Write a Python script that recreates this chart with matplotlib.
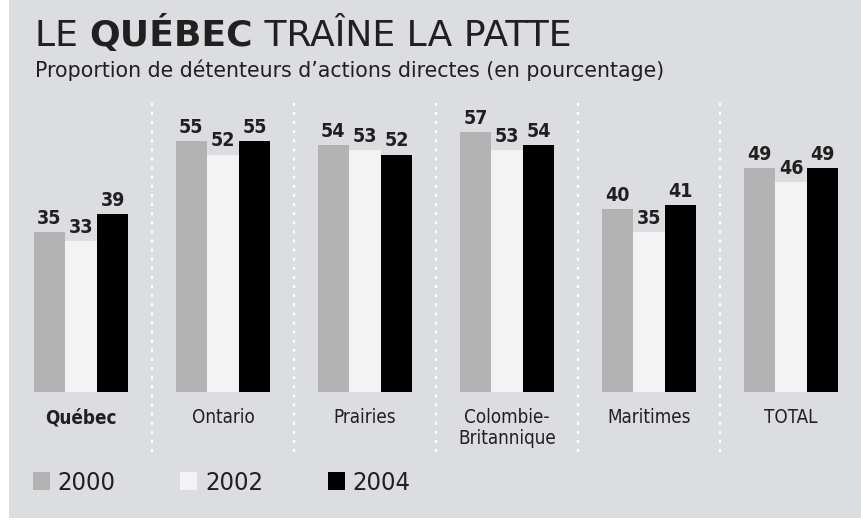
import matplotlib
matplotlib.use("Agg")
import matplotlib.pyplot as plt
from matplotlib.patches import Rectangle, Patch
import numpy as np

# ---- data ----
categories = ["Québec", "Ontario", "Prairies", "Colombie-\nBritannique", "Maritimes", "TOTAL"]
years = ["2000", "2002", "2004"]
v2000 = [35, 55, 54, 57, 40, 49]
v2002 = [33, 52, 53, 53, 35, 46]
v2004 = [39, 55, 52, 54, 41, 49]

colors = ["#b3b3b3", "#f3f3f3", "#000000"]
bg = "#dcdde0"
ink = "#231f20"
cond = dict(family="DejaVu Sans", stretch="condensed")

W, H = 861, 522
fig = plt.figure(figsize=(W / 100, H / 100), dpi=100, facecolor="white")
fig.patches.append(Rectangle((9 / W, 4 / H), 1, 1, transform=fig.transFigure,
                             facecolor=bg, edgecolor="none", zorder=-10))

# axes: baseline at y=392px, top at 98px, groups every 142px starting at 10px
ax = fig.add_axes([10 / W, 130 / H, 852 / W, 294 / H])
ax.set_facecolor("none")
ax.set_xlim(-0.5, 5.5)
ax.set_ylim(0, 294 / 4.565)
for s in ax.spines.values():
    s.set_visible(False)
ax.set_xticks([])
ax.set_yticks([])

x = np.arange(len(categories))
bw = 0.223
for k, vals in enumerate([v2000, v2002, v2004]):
    bars = ax.bar(x + (k - 1) * bw, vals, width=bw, color=colors[k], label=years[k])
    for b, v in zip(bars, vals):
        ax.annotate(str(v), (b.get_x() + b.get_width() / 2, v), xytext=(0, 3),
                    textcoords="offset points", ha="center", va="bottom",
                    fontsize=14, fontweight="bold", color=ink, **cond)

# dotted separators
for xs in x[:-1] + 0.5:
    ax.axvline(xs, ymin=-0.204, ymax=1.0, color="white", lw=1.6,
               ls=(0, (1.3, 2.8)), clip_on=False)

# category labels
for xi, c in zip(x, categories):
    ax.text(xi, -0.055, c, transform=ax.get_xaxis_transform(), ha="center", va="top",
            fontsize=13.5, color=ink, linespacing=1.1,
            fontweight="bold" if c == "Québec" else "normal", **cond)

# title with a bold word
renderer = fig.canvas.get_renderer()
tx = 35 / W
parts = [("LE ", "normal"), ("QUÉBEC", "bold"), (" TRAÎNE LA PATTE", "normal")]
for txt, wgt in parts:
    t = fig.text(tx, 1 - 46 / H, txt, fontsize=26, fontweight=wgt, color=ink,
                 family="DejaVu Sans", va="baseline", ha="left")
    bb = t.get_window_extent(renderer)
    tx += bb.width / W

fig.text(35 / W, 1 - 77 / H, "Proportion de détenteurs d\u2019actions directes (en pourcentage)",
         fontsize=14.8, color=ink, family="DejaVu Sans", va="baseline", ha="left")

# legend
handles = [Patch(facecolor=c, edgecolor="none") for c in colors]
leg = fig.legend(handles, years, loc="center left", bbox_to_anchor=(33 / W, 1 - 483 / H),
                 ncol=3, frameon=False, fontsize=18.3, handlelength=0.67, handleheight=0.67,
                 handletextpad=0.3, columnspacing=2.55, labelcolor=ink,
                 borderpad=0, borderaxespad=0)
for t in leg.get_texts():
    t.set_family("DejaVu Sans")
    t.set_stretch("condensed")

fig.savefig("out.png", dpi=100, facecolor="white")
